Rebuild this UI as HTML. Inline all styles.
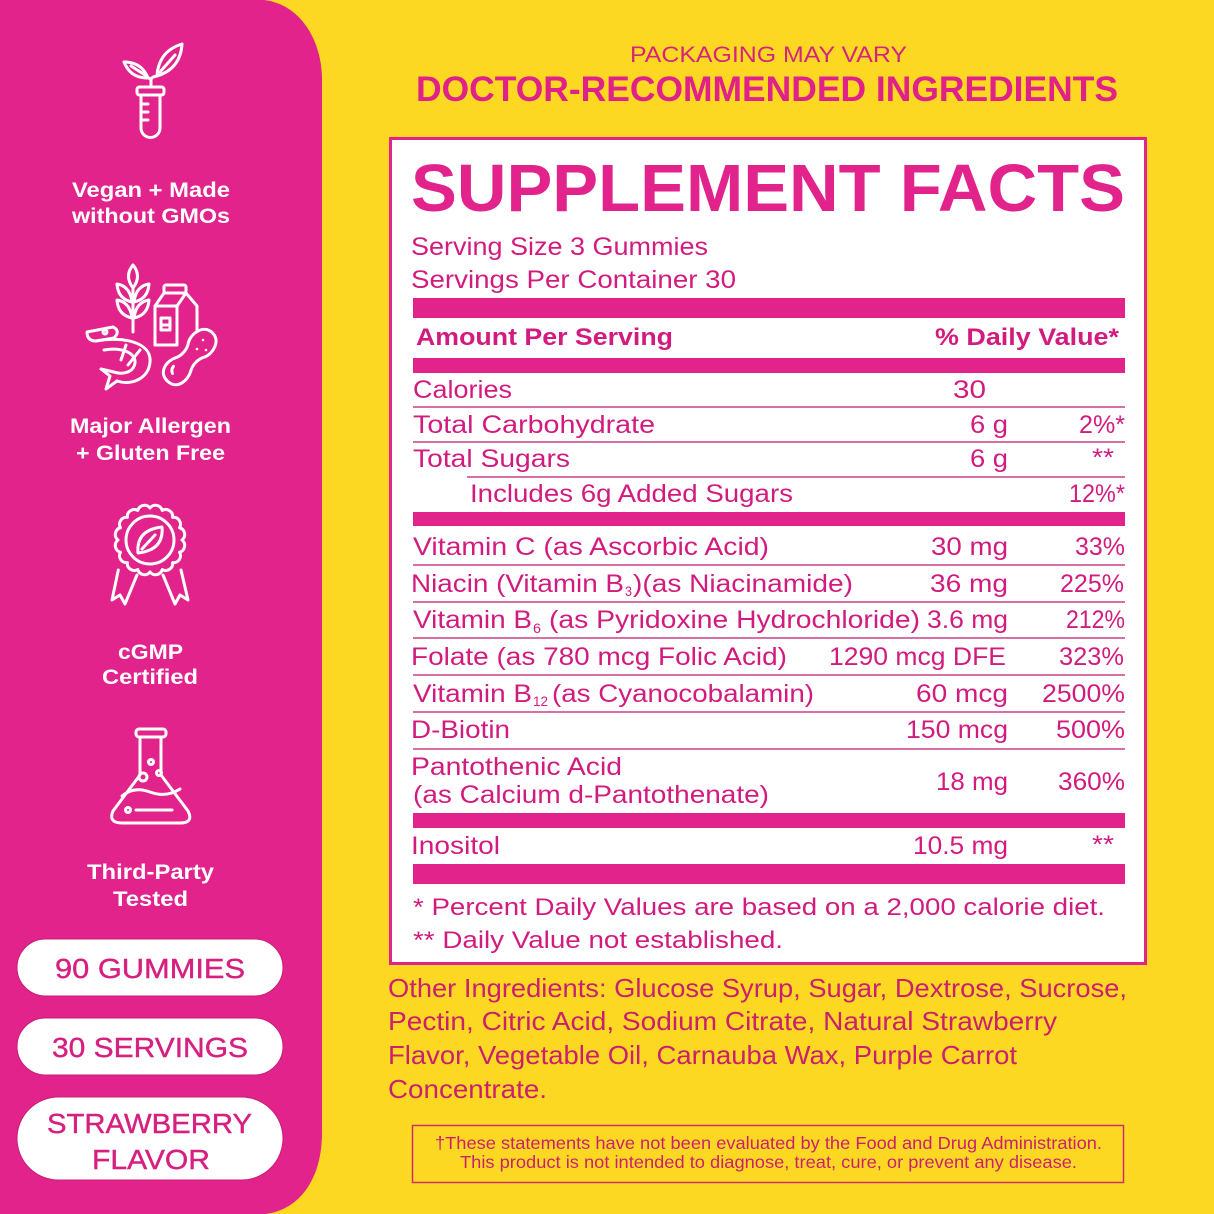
<!DOCTYPE html>
<html>
<head>
<meta charset="utf-8">
<style>
html,body{margin:0;padding:0;background:#FDD823;}
svg{display:block;font-family:"Liberation Sans",sans-serif;}
</style>
</head>
<body>
<svg width="1214" height="1214" viewBox="0 0 1214 1214" xmlns="http://www.w3.org/2000/svg">
  <!-- background -->
  <rect x="0" y="0" width="1214" height="1214" fill="#FDD823"/>
  <!-- left pink panel -->
  <path d="M0,0 H264 C300,4 322,40 322,80 V1133 C322,1178 300,1210 265,1214 H0 Z" fill="#E1238B"/>

  <!-- ICON 1: test tube with sprout -->
  <g fill="none" stroke="#fff" stroke-width="3" stroke-linecap="round" stroke-linejoin="round">
    <rect x="137" y="87" width="27" height="8" rx="2.5"/>
    <path d="M141,95 V128 A9.5,9.5 0 0 0 160,128 V95"/>
    <path d="M141,104 H148 M141,112 H148 M141,120 H148"/>
    <path d="M151,87 V80 Q151,77 157,76"/>
    <path d="M151,80 Q150,78 148,78"/>
    <path d="M157,76 Q180.5,68.7 182,44 Q158.5,51.3 157,76 Z"/>
    <path d="M160,72 L175,55"/>
    <path d="M148,78 Q141.5,61.7 124,62 Q130.5,78.3 148,78 Z"/>
    <path d="M145,75 L131,66"/>
  </g>

  <!-- ICON 2: allergens -->
  <g fill="none" stroke="#fff" stroke-width="3" stroke-linecap="round" stroke-linejoin="round">
    <!-- wheat -->
    <path d="M133,265 Q142,276 133,288 Q124,276 133,265 Z"/>
    <path d="M132,302 Q130,286 117,284 Q118,299 132,302 Z"/>
    <path d="M134,302 Q136,286 149,284 Q148,299 134,302 Z"/>
    <path d="M132,318 Q130,302 117,300 Q118,315 132,318 Z"/>
    <path d="M134,318 Q136,302 149,300 Q148,315 134,318 Z"/>
    <path d="M133,288 V332"/>
    <!-- milk carton -->
    <rect x="164" y="285" width="22" height="8" rx="2"/>
    <path d="M155,345 V306 L164,293 H186 L197,306 V332"/>
    <path d="M155,306 H177 L186,293 M177,306 V345 H155"/>
    <path d="M161,318 H170 M161,325 H170 M161,318 V330 H170 V318"/>
    <!-- peanut -->
    <g transform="translate(190,357) rotate(-48)">
      <path d="M-33,0 C-33,-14 -18,-15 -10,-10 C-4,-7 4,-7 10,-11 C18,-15 33,-12 33,0 C33,12 18,15 10,11 C4,7 -4,7 -10,10 C-18,14 -33,13 -33,0 Z" fill="#E1238B"/>
      <path d="M-24,-2 Q-22,-6 -18,-6"/>
    </g>
    <circle cx="203" cy="340" r="1.3" fill="#fff" stroke="none"/>
    <circle cx="197" cy="349" r="1.3" fill="#fff" stroke="none"/>
    <circle cx="206" cy="350" r="1.3" fill="#fff" stroke="none"/>
    <!-- shrimp -->
    <path d="M87,332 L113,327 Q121,331 114,338 L96,341 Q87,341 87,332 Z"/>
    <circle cx="105" cy="332" r="2"/>
    <path d="M96,341 C122,336 152,342 150,362 C149,378 132,386 117,381" fill="#E1238B"/>
    <path d="M104,350 C120,347 136,352 135,363 C134,371 126,374 118,373"/>
    <path d="M117,381 L106,389 L110,376 L101,369 L118,373"/>
    <path d="M126,345 L121,360 M140,350 L128,365"/>
  </g>

  <!-- ICON 3: badge -->
  <g fill="none" stroke="#fff" stroke-width="3" stroke-linecap="round" stroke-linejoin="round">
    <path d="M118.3,570 L112,600 L120,595 L125,604 L137,575"/>
    <path d="M163,575 L175,604 L180,595 L188,600 L181,570"/>
    <path d="M182,540 A7,7 0 0 1 179.56,552.25 A7,7 0 0 1 172.63,562.63 A7,7 0 0 1 162.25,569.56 A7,7 0 0 1 150,572 A7,7 0 0 1 137.75,569.56 A7,7 0 0 1 127.37,562.63 A7,7 0 0 1 120.44,552.25 A7,7 0 0 1 118,540 A7,7 0 0 1 120.44,527.75 A7,7 0 0 1 127.37,517.37 A7,7 0 0 1 137.75,510.44 A7,7 0 0 1 150,508 A7,7 0 0 1 162.25,510.44 A7,7 0 0 1 172.63,517.37 A7,7 0 0 1 179.56,527.75 A7,7 0 0 1 182,540 Z" fill="#E1238B"/>
    <circle cx="150" cy="540" r="24"/>
    <path d="M138,553 Q136,530 162,527 Q164,550 138,553 Z"/>
    <path d="M142,549 L155,535"/>
  </g>

  <!-- ICON 4: flask -->
  <g fill="none" stroke="#fff" stroke-width="3" stroke-linecap="round" stroke-linejoin="round">
    <rect x="136" y="729" width="30" height="8" rx="3"/>
    <path d="M140,737 V775 L113,811 Q108,823 122,823 H180 Q194,823 188,811 L161,775 V737"/>
    <path d="M122,796 Q134,786 150,792 Q166,798 180,789"/>
    <circle cx="151" cy="762" r="2.5"/>
    <circle cx="143" cy="777" r="4"/>
    <circle cx="159" cy="773" r="2.5"/>
    <circle cx="128" cy="810" r="2.5"/>
    <path d="M136,810 H172"/>
  </g>

  <!-- left panel labels -->
  <g fill="#fff" font-weight="bold" font-size="21">
    <text x="72" y="197" textLength="158" lengthAdjust="spacingAndGlyphs">Vegan + Made</text>
    <text x="72" y="223" textLength="158" lengthAdjust="spacingAndGlyphs">without GMOs</text>
    <text x="70" y="433" textLength="161" lengthAdjust="spacingAndGlyphs">Major Allergen</text>
    <text x="76" y="460" textLength="149" lengthAdjust="spacingAndGlyphs">+ Gluten Free</text>
    <text x="118" y="659" textLength="65" lengthAdjust="spacingAndGlyphs">cGMP</text>
    <text x="102" y="684" textLength="96" lengthAdjust="spacingAndGlyphs">Certified</text>
    <text x="87" y="879" textLength="127" lengthAdjust="spacingAndGlyphs">Third-Party</text>
    <text x="113" y="906" textLength="75" lengthAdjust="spacingAndGlyphs">Tested</text>
  </g>

  <!-- pills -->
  <g fill="#fff" stroke="#C81D74" stroke-width="1">
    <rect x="17" y="939" width="266" height="57" rx="28.5"/>
    <rect x="17" y="1018" width="266" height="57" rx="28.5"/>
    <rect x="17" y="1097" width="266" height="83" rx="41.5"/>
  </g>
  <g fill="#D62080" font-size="28" stroke="#D62080" stroke-width="0.4">
    <text x="55" y="978" textLength="190" lengthAdjust="spacingAndGlyphs">90 GUMMIES</text>
    <text x="52" y="1057" textLength="196" lengthAdjust="spacingAndGlyphs">30 SERVINGS</text>
    <text x="47" y="1133" textLength="205" lengthAdjust="spacingAndGlyphs">STRAWBERRY</text>
    <text x="92" y="1169" textLength="118" lengthAdjust="spacingAndGlyphs">FLAVOR</text>
  </g>

  <!-- header -->
  <text x="630" y="62" font-size="22" fill="#D42480" textLength="277" lengthAdjust="spacingAndGlyphs">PACKAGING MAY VARY</text>
  <text x="416" y="101" font-size="35" font-weight="bold" fill="#E0218A" textLength="702" lengthAdjust="spacingAndGlyphs">DOCTOR-RECOMMENDED INGREDIENTS</text>

  <!-- supplement facts box -->
  <rect x="390.5" y="138.5" width="755" height="825" fill="#fff" stroke="#E1238B" stroke-width="3"/>
  <text x="411" y="211" font-size="67" font-weight="bold" fill="#E1238B" textLength="714" lengthAdjust="spacingAndGlyphs">SUPPLEMENT FACTS</text>

  <!-- bars -->
  <g fill="#E1238B">
    <rect x="413" y="298" width="712" height="20"/>
    <rect x="413" y="358" width="712" height="15"/>
    <rect x="413" y="512" width="712" height="14"/>
    <rect x="413" y="813" width="712" height="15"/>
    <rect x="413" y="864" width="712" height="20"/>
  </g>
  <!-- thin lines -->
  <g stroke="#C9418A" stroke-width="1.5">
    <line x1="413" y1="407" x2="1125" y2="407"/>
    <line x1="413" y1="442" x2="1125" y2="442"/>
    <line x1="467" y1="477" x2="1125" y2="477"/>
    <line x1="413" y1="565" x2="1125" y2="565"/>
    <line x1="413" y1="602" x2="1125" y2="602"/>
    <line x1="413" y1="638" x2="1125" y2="638"/>
    <line x1="413" y1="675" x2="1125" y2="675"/>
    <line x1="413" y1="712" x2="1125" y2="712"/>
    <line x1="413" y1="749" x2="1125" y2="749"/>
  </g>

  <g fill="#D21B7E" font-size="25">
    <text x="411" y="255" textLength="297" lengthAdjust="spacingAndGlyphs">Serving Size 3 Gummies</text>
    <text x="411" y="288" textLength="325" lengthAdjust="spacingAndGlyphs">Servings Per Container 30</text>

    <text x="416" y="345" font-size="24" font-weight="bold" textLength="257" lengthAdjust="spacingAndGlyphs">Amount Per Serving</text>
    <text x="935" y="345" font-size="24" font-weight="bold" textLength="184" lengthAdjust="spacingAndGlyphs">% Daily Value*</text>

    <text x="413" y="398" textLength="99" lengthAdjust="spacingAndGlyphs">Calories</text>
    <text x="953" y="398" textLength="33" lengthAdjust="spacingAndGlyphs">30</text>

    <text x="413" y="433" textLength="242" lengthAdjust="spacingAndGlyphs">Total Carbohydrate</text>
    <text x="970" y="433" textLength="38" lengthAdjust="spacingAndGlyphs">6 g</text>
    <text x="1079" y="433" textLength="46" lengthAdjust="spacingAndGlyphs">2%*</text>

    <text x="413" y="467" textLength="157" lengthAdjust="spacingAndGlyphs">Total Sugars</text>
    <text x="970" y="467" textLength="38" lengthAdjust="spacingAndGlyphs">6 g</text>
    <text x="1092" y="466" textLength="22" lengthAdjust="spacingAndGlyphs">**</text>

    <text x="470" y="502" textLength="323" lengthAdjust="spacingAndGlyphs">Includes 6g Added Sugars</text>
    <text x="1069" y="502" textLength="56" lengthAdjust="spacingAndGlyphs">12%*</text>

    <text x="413" y="555" textLength="356" lengthAdjust="spacingAndGlyphs">Vitamin C (as Ascorbic Acid)</text>
    <text x="931" y="555" textLength="77" lengthAdjust="spacingAndGlyphs">30 mg</text>
    <text x="1075" y="555" textLength="50" lengthAdjust="spacingAndGlyphs">33%</text>

    <text x="411" y="592" textLength="213" lengthAdjust="spacingAndGlyphs">Niacin (Vitamin B</text>
    <text x="625" y="596" font-size="14" textLength="7" lengthAdjust="spacingAndGlyphs">3</text>
    <text x="633" y="592" textLength="220" lengthAdjust="spacingAndGlyphs">)(as Niacinamide)</text>
    <text x="930" y="592" textLength="78" lengthAdjust="spacingAndGlyphs">36 mg</text>
    <text x="1060" y="592" textLength="64" lengthAdjust="spacingAndGlyphs">225%</text>

    <text x="413" y="628" textLength="119" lengthAdjust="spacingAndGlyphs">Vitamin B</text>
    <text x="533" y="633" font-size="14" textLength="8" lengthAdjust="spacingAndGlyphs">6</text>
    <text x="549" y="628" textLength="371" lengthAdjust="spacingAndGlyphs">(as Pyridoxine Hydrochloride)</text>
    <text x="927" y="628" textLength="81" lengthAdjust="spacingAndGlyphs">3.6 mg</text>
    <text x="1066" y="628" textLength="59" lengthAdjust="spacingAndGlyphs">212%</text>

    <text x="411" y="665" textLength="376" lengthAdjust="spacingAndGlyphs">Folate (as 780 mcg Folic Acid)</text>
    <text x="829" y="665" textLength="177" lengthAdjust="spacingAndGlyphs">1290 mcg DFE</text>
    <text x="1059" y="665" textLength="65" lengthAdjust="spacingAndGlyphs">323%</text>

    <text x="413" y="702" textLength="119" lengthAdjust="spacingAndGlyphs">Vitamin B</text>
    <text x="533" y="706" font-size="14" textLength="15" lengthAdjust="spacingAndGlyphs">12</text>
    <text x="552" y="702" textLength="262" lengthAdjust="spacingAndGlyphs">(as Cyanocobalamin)</text>
    <text x="916" y="702" textLength="92" lengthAdjust="spacingAndGlyphs">60 mcg</text>
    <text x="1042" y="702" textLength="83" lengthAdjust="spacingAndGlyphs">2500%</text>

    <text x="411" y="738" textLength="99" lengthAdjust="spacingAndGlyphs">D-Biotin</text>
    <text x="906" y="738" textLength="102" lengthAdjust="spacingAndGlyphs">150 mcg</text>
    <text x="1056" y="738" textLength="69" lengthAdjust="spacingAndGlyphs">500%</text>

    <text x="411" y="775" textLength="211" lengthAdjust="spacingAndGlyphs">Pantothenic Acid</text>
    <text x="413" y="803" textLength="356" lengthAdjust="spacingAndGlyphs">(as Calcium d-Pantothenate)</text>
    <text x="936" y="790" textLength="72" lengthAdjust="spacingAndGlyphs">18 mg</text>
    <text x="1058" y="790" textLength="67" lengthAdjust="spacingAndGlyphs">360%</text>

    <text x="411" y="854" textLength="89" lengthAdjust="spacingAndGlyphs">Inositol</text>
    <text x="913" y="854" textLength="95" lengthAdjust="spacingAndGlyphs">10.5 mg</text>
    <text x="1092" y="853" textLength="22" lengthAdjust="spacingAndGlyphs">**</text>

    <text x="413" y="915" font-size="24" textLength="692" lengthAdjust="spacingAndGlyphs">* Percent Daily Values are based on a 2,000 calorie diet.</text>
    <text x="413" y="948" font-size="24" textLength="370" lengthAdjust="spacingAndGlyphs">** Daily Value not established.</text>
  </g>

  <!-- other ingredients -->
  <g fill="#CB1F6F" font-size="26">
    <text x="388" y="997" textLength="739" lengthAdjust="spacingAndGlyphs">Other Ingredients: Glucose Syrup, Sugar, Dextrose, Sucrose,</text>
    <text x="388" y="1030" textLength="669" lengthAdjust="spacingAndGlyphs">Pectin, Citric Acid, Sodium Citrate, Natural Strawberry</text>
    <text x="388" y="1064" textLength="629" lengthAdjust="spacingAndGlyphs">Flavor, Vegetable Oil, Carnauba Wax, Purple Carrot</text>
    <text x="388" y="1098" textLength="159" lengthAdjust="spacingAndGlyphs">Concentrate.</text>
  </g>

  <!-- disclaimer -->
  <rect x="412.5" y="1125.5" width="711" height="57" fill="none" stroke="#CC2E6A" stroke-width="1.5"/>
  <g fill="#CB2070" font-size="17.5">
    <text x="435" y="1149" textLength="667" lengthAdjust="spacingAndGlyphs">†These statements have not been evaluated by the Food and Drug Administration.</text>
    <text x="460" y="1168" textLength="617" lengthAdjust="spacingAndGlyphs">This product is not intended to diagnose, treat, cure, or prevent any disease.</text>
  </g>
</svg>
</body>
</html>
